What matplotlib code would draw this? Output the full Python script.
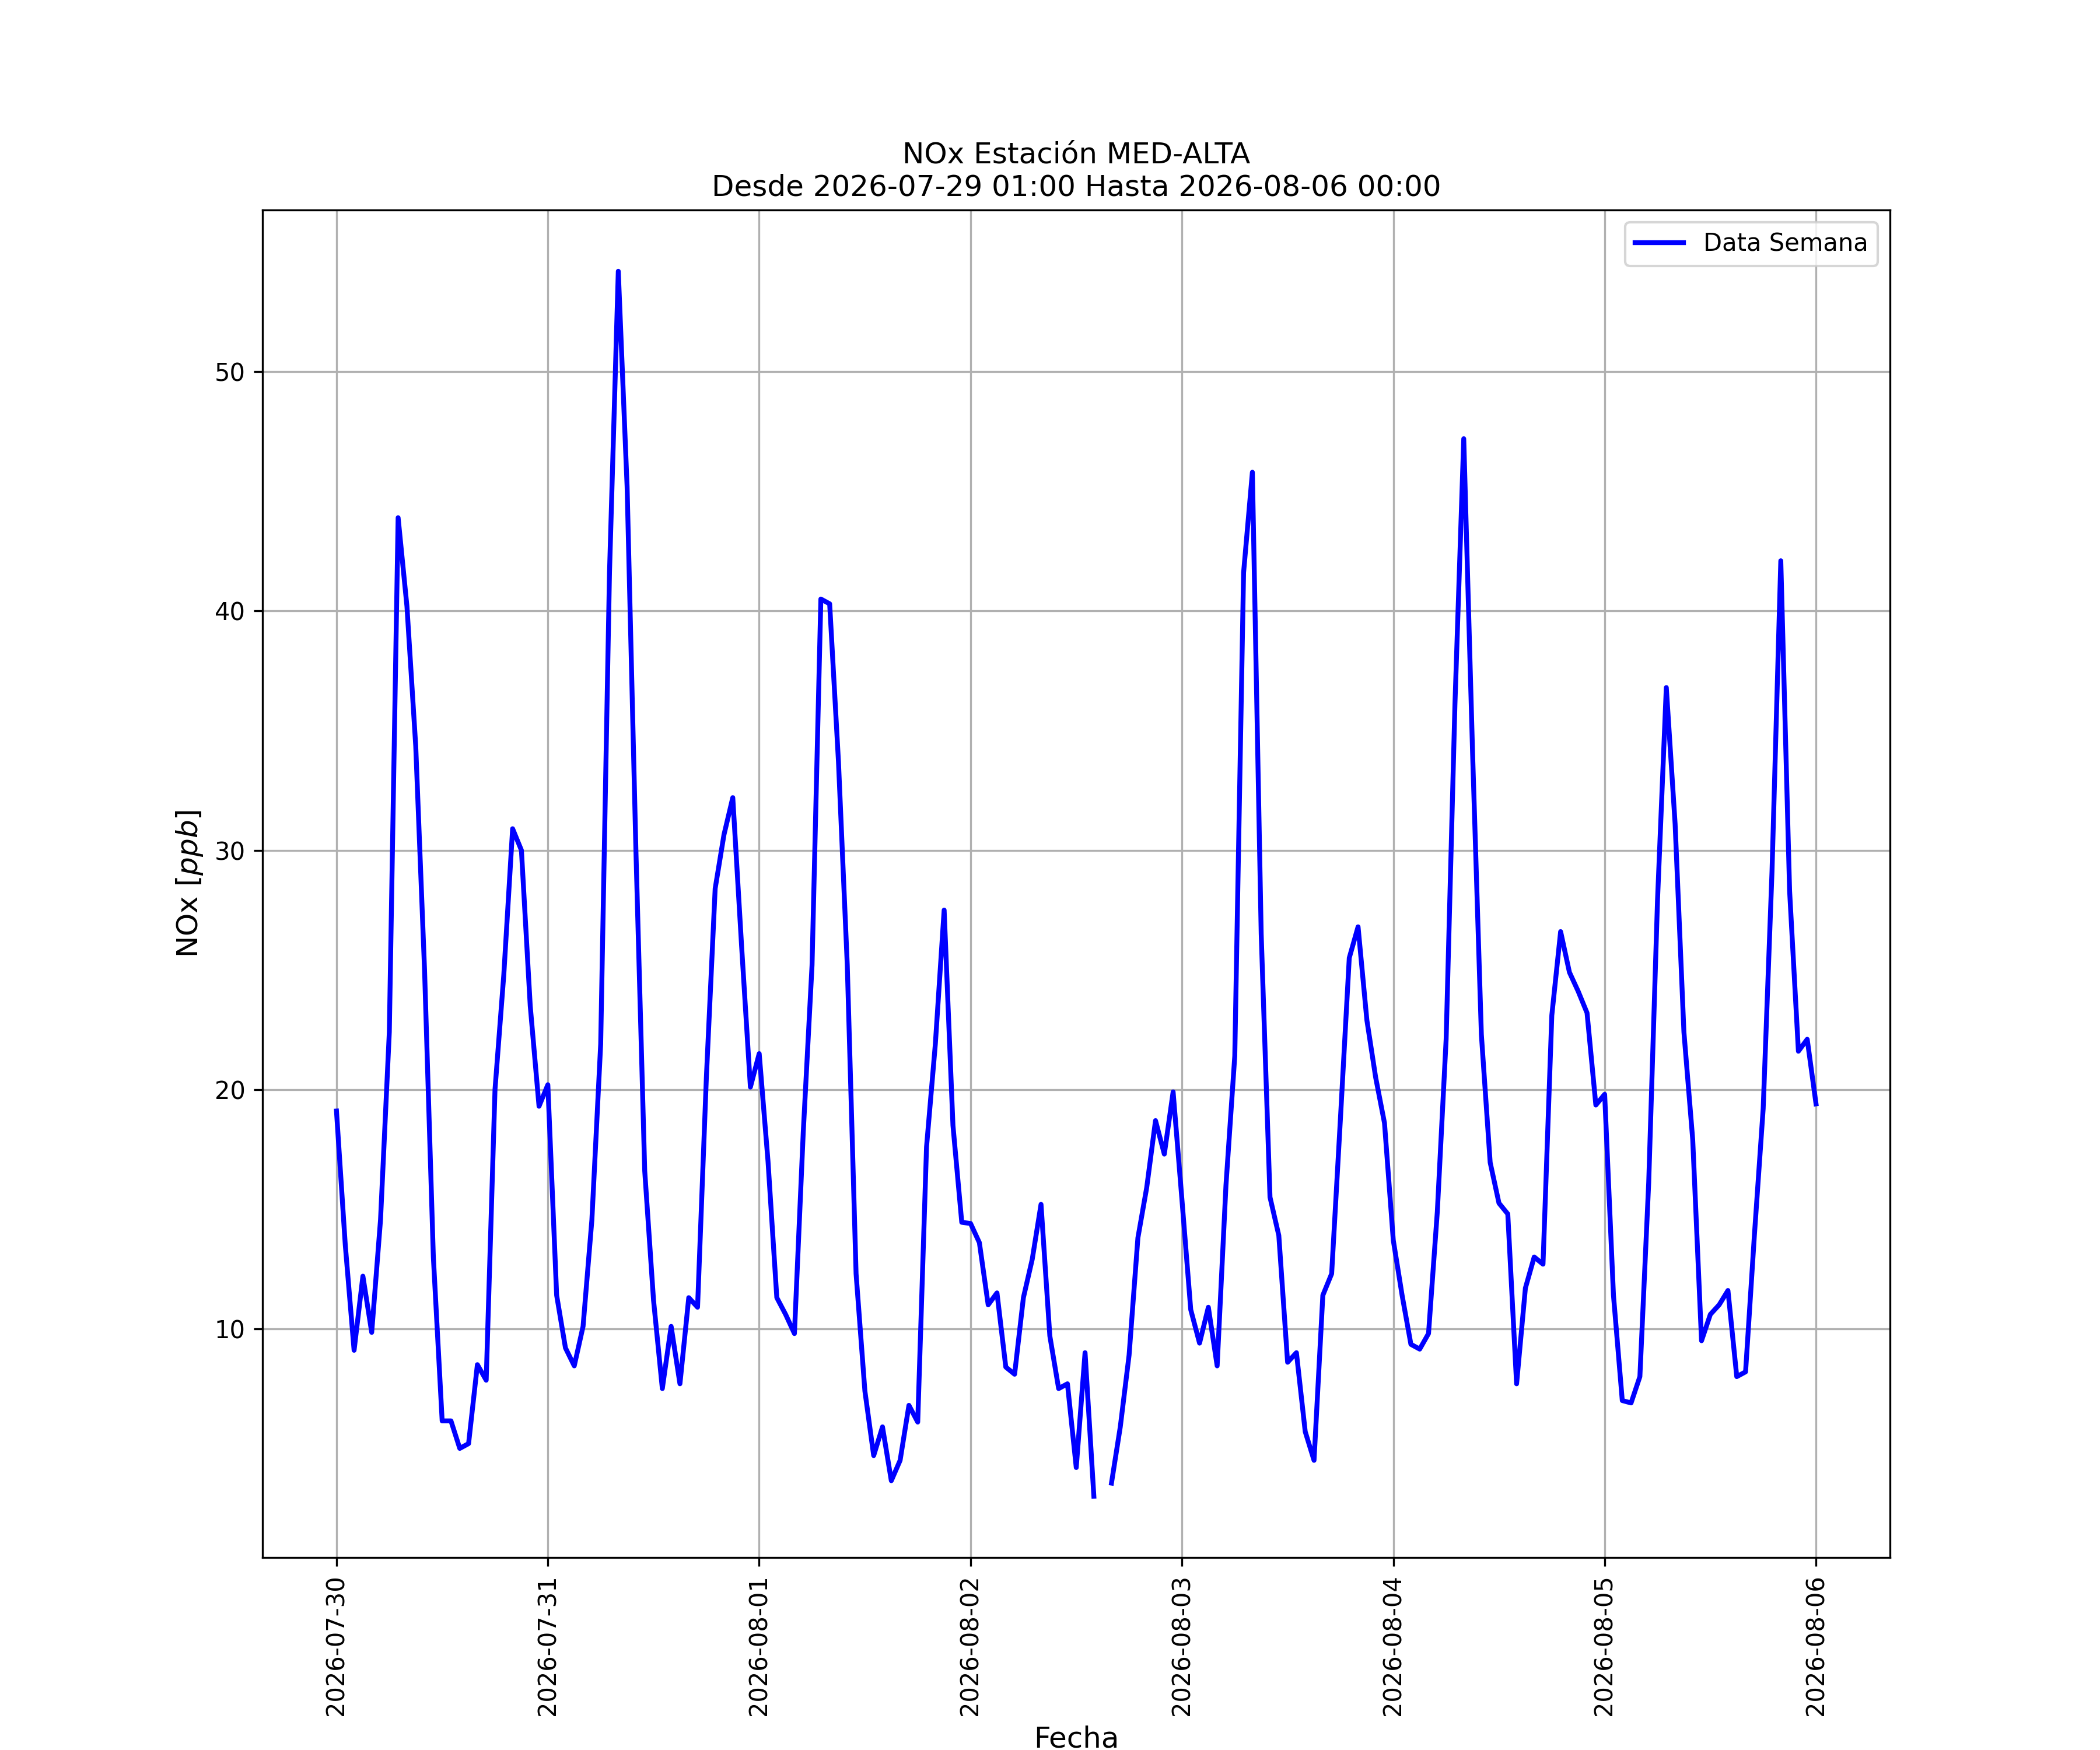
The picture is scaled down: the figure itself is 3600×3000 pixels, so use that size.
import numpy as np
import pandas as pd
import matplotlib
matplotlib.use("Agg")
import matplotlib.pyplot as plt
import matplotlib.dates as mdates

start = "2026-07-30 00:00"
nox_ppb = [
    # 07-30
    19.1, 13.5, 9.1, 12.2, 9.85, 14.55, 22.4, 43.9, 40.2, 34.35, 25.0, 13.0,
    6.15, 6.15, 5.0, 5.2, 8.5, 7.85, 20.0, 24.8, 30.9, 30.0, 23.5, 19.3,
    # 07-31
    20.2, 11.4, 9.2, 8.45, 10.1, 14.55, 21.9, 41.6, 54.2, 45.2, 30.0, 16.6,
    11.2, 7.5, 10.1, 7.7, 11.3, 10.9, 20.5, 28.4, 30.65, 32.2, 26.0, 20.1,
    # 08-01
    21.5, 17.0, 11.3, 10.6, 9.8, 18.2, 25.2, 40.5, 40.3, 33.7, 25.2, 12.3,
    7.4, 4.7, 5.9, 3.65, 4.5, 6.8, 6.1, 17.6, 21.9, 27.5, 18.5, 14.45,
    # 08-02
    14.4, 13.6, 11.0, 11.5, 8.4, 8.1, 11.3, 12.9, 15.2, 9.7, 7.5, 7.7,
    4.2, 9.0, 3.0, np.nan, 3.55, 5.9, 8.9, 13.8, 15.9, 18.7, 17.3, 19.9,
    # 08-03
    15.4, 10.8, 9.4, 10.9, 8.45, 16.0, 21.4, 41.6, 45.8, 26.5, 15.5, 13.9,
    8.6, 9.0, 5.7, 4.5, 11.4, 12.3, 18.8, 25.5, 26.8, 22.9, 20.5, 18.6,
    # 08-04
    13.7, 11.4, 9.35, 9.15, 9.8, 14.9, 22.1, 36.1, 47.2, 34.1, 22.3, 16.95,
    15.25, 14.8, 7.7, 11.7, 13.0, 12.7, 23.1, 26.6, 24.9, 24.1, 23.2, 19.35,
    # 08-05
    19.8, 11.4, 7.0, 6.9, 8.0, 16.1, 27.9, 36.8, 31.1, 22.4, 17.9, 9.5,
    10.6, 11.0, 11.6, 8.0, 8.2, 13.9, 19.2, 29.1, 42.1, 28.3, 21.6, 22.1,
    # 08-06
    19.4,
]

fechas = pd.date_range(start, periods=len(nox_ppb), freq="h")

fig, ax = plt.subplots(figsize=(12, 10), dpi=300)
ax.plot(fechas, nox_ppb, color="blue", linewidth=2, label="Data Semana")

ax.set_title("NOx Estación MED-ALTA\nDesde 2026-07-29 01:00 Hasta 2026-08-06 00:00")
ax.set_xlabel("Fecha", fontsize=12)
ax.set_ylabel("NOx [$ppb$]", fontsize=12)
ax.xaxis.set_major_locator(mdates.DayLocator())
ax.xaxis.set_major_formatter(mdates.DateFormatter("%Y-%m-%d"))
plt.setp(ax.get_xticklabels(), rotation=90)
ax.grid(True)
ax.legend(loc="upper right")

fig.savefig("out.png", dpi=300)
